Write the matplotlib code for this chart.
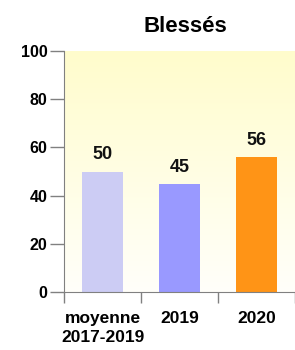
import matplotlib.pyplot as plt
import numpy as np

categories = ["moyenne\n2017-2019", "2019", "2020"]
values = [50, 45, 56]
colors = ["#ccccf4", "#9999ff", "#ff9416"]
title = "Blessés"
yticks = [0, 20, 40, 60, 80, 100]

plt.rcParams["font.family"] = ["Liberation Sans", "DejaVu Sans"]

fig = plt.figure(figsize=(2.95, 3.5), dpi=100)
ax = fig.add_axes([0.217, 0.166, 0.783, 0.688])

# yellow-to-white background gradient
grad = np.linspace(0, 1, 256).reshape(-1, 1)
top = np.array([1.0, 0.99, 0.80])
bottom = np.array([1.0, 1.0, 0.98])
img = top * (1 - grad[..., None]) + bottom * grad[..., None]
img = img.reshape(256, 1, 3)
ax.imshow(img, extent=[-0.5, 2.5, 0, 100], aspect="auto", zorder=0)

x = np.arange(len(categories))
ax.bar(x, values, width=0.52, color=colors, zorder=2)
for xi, v in zip(x, values):
    ax.text(xi, v + 5, str(v), ha="center", va="baseline",
            fontsize=13, fontweight="bold", color="#111111")

ax.set_xlim(-0.5, 2.5)
ax.set_ylim(0, 100)
ax.set_yticks(yticks)
ax.set_yticklabels([str(t) for t in yticks], fontsize=11.5, fontweight="bold")
ax.set_xticks(x)
ax.set_xticklabels(categories, fontsize=12.5, fontweight="bold", linespacing=1.3)
ax.set_xticks([-0.5, 0.5, 1.5, 2.5], minor=True)
ax.tick_params(axis="x", which="major", length=0, pad=14)
ax.tick_params(axis="x", which="minor", length=8, color="#808080", width=1)
ax.tick_params(axis="y", length=10, color="#808080", width=1, pad=2)

for s in ["top", "right"]:
    ax.spines[s].set_visible(False)
for s in ["left", "bottom"]:
    ax.spines[s].set_color("#808080")

fig.text(185 / 295, 1 - 32 / 350, title, ha="center", va="baseline",
         fontsize=16, fontweight="bold")

fig.savefig("out.png", dpi=100)
